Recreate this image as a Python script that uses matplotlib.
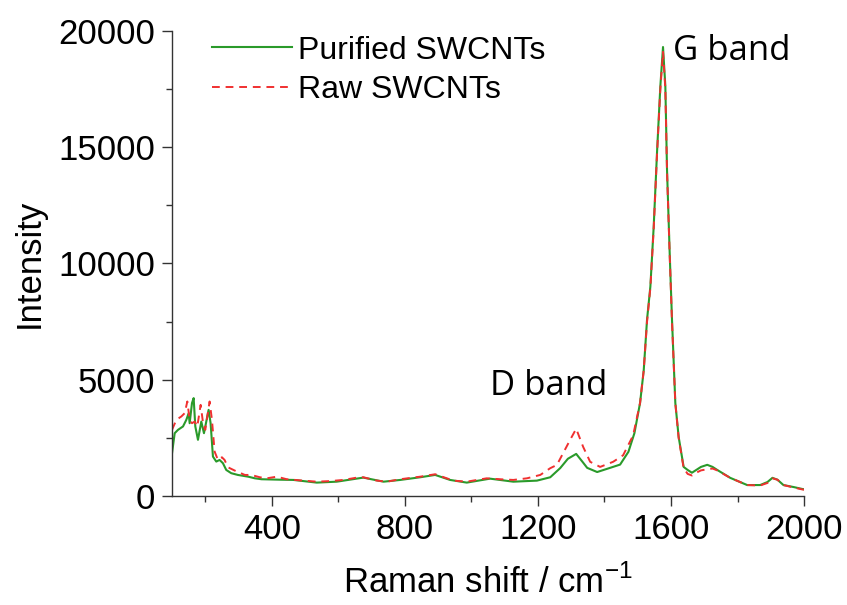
# =========================================================
# Raman spectra: purified vs raw SWCNTs
# =========================================================

import numpy as np
import matplotlib
matplotlib.use("Agg")
import matplotlib.pyplot as plt
from matplotlib.ticker import MultipleLocator

# =========================================================
# DATA
# =========================================================
shift_pur = [100, 108, 118, 133, 143, 150, 153, 160, 165, 170, 178, 188, 196,
             210, 216, 223, 233, 243, 253, 263, 278, 298, 329, 349, 369,
             425, 465, 535, 595, 675, 736, 786, 846, 891, 936, 986, 1056,
             1126, 1197, 1237, 1267, 1290, 1315, 1335, 1348, 1378, 1417,
             1447, 1472, 1490, 1507, 1518, 1528, 1538, 1548, 1558, 1568,
             1576, 1583, 1588, 1596, 1603, 1613, 1623, 1638, 1650, 1663,
             1676, 1690, 1709, 1725, 1739, 1778, 1829, 1868, 1890, 1905,
             1920, 1938, 1970, 1995, 2000]
int_pur = [1840, 2700, 2845, 2990, 3275, 3560, 3130, 3995, 4210, 2990, 2415,
           3200, 2700, 3705, 3130, 1695, 1480, 1550, 1410, 1120, 980, 905,
           830, 760, 720, 700, 690, 575, 615, 790, 615, 690, 805, 905, 690,
           575, 745, 615, 660, 805, 1200, 1600, 1810, 1450, 1210, 1030, 1210,
           1350, 1900, 2700, 4000, 5400, 7590, 9010, 11590, 14780, 17630,
           19310, 17630, 14050, 10470, 7590, 4000, 2540, 1250, 1120, 1000,
           1120, 1250, 1340, 1250, 1120, 780, 470, 470, 600, 780, 700, 470,
           380, 300, 290]

shift_raw = [100, 113, 128, 138, 146, 153, 160, 168, 176, 186, 194, 200, 213,
             220, 228, 238, 250, 258, 268, 289, 319, 338, 364, 385, 415, 445,
             495, 535, 575, 615, 656, 675, 716, 746, 786, 846, 891, 946, 986,
             1046, 1086, 1126, 1167, 1207, 1237, 1257, 1276, 1300, 1315, 1336,
             1357, 1387, 1426, 1456, 1486, 1507, 1518, 1528, 1538, 1548, 1558,
             1568, 1576, 1583, 1588, 1596, 1603, 1613, 1623, 1638, 1650, 1663,
             1676, 1690, 1709, 1725, 1739, 1778, 1829, 1868, 1890, 1905, 1920,
             1938, 1970, 1995, 2000]
int_raw = [2845, 3275, 3420, 3560, 4065, 3275, 3130, 3200, 2990, 3920, 3060,
           2845, 4065, 3275, 1910, 1550, 1665, 1550, 1235, 1090, 905, 905,
           805, 760, 830, 720, 660, 615, 640, 690, 790, 805, 660, 615, 720,
           830, 935, 660, 615, 760, 720, 690, 760, 905, 1195, 1335, 1850, 2500,
           2890, 2110, 1470, 1250, 1470, 1750, 2600, 4000, 5400, 7500, 8950,
           11500, 14700, 17500, 19100, 17500, 14000, 10400, 7500, 4000, 2500,
           1200, 950, 880, 1000, 1100, 1150, 1180, 1100, 780, 470, 450, 560,
           760, 700, 470, 360, 280, 270]

band_labels = ["D band", "G band"]
band_pos = [(1056, 4740), (1607, 19140)]

# =========================================================
# FIGURE
# =========================================================
plt.rcParams["font.family"] = ["Liberation Sans", "DejaVu Sans"]

fig = plt.figure(figsize=(8.47, 6.05), dpi=100)
ax = fig.add_axes([0.2031, 0.1802, 0.7462, 0.7686])

ax.plot(shift_pur, int_pur, color="#2a9a2a", lw=1.5, label="Purified SWCNTs")
ax.plot(shift_raw, int_raw, color="#f03030", lw=1.4, ls=(0, (4, 3)),
        label="Raw SWCNTs")

ax.set_xlim(100, 2000)
ax.set_ylim(0, 20000)

ax.xaxis.set_major_locator(MultipleLocator(400))
ax.xaxis.set_minor_locator(MultipleLocator(200))
ax.yaxis.set_major_locator(MultipleLocator(5000))
ax.yaxis.set_minor_locator(MultipleLocator(2500))
ax.set_xticks([400, 800, 1200, 1600, 2000])

ax.spines["top"].set_visible(False)
ax.spines["right"].set_visible(False)
for s in ["left", "bottom"]:
    ax.spines[s].set_color("#333333")
    ax.spines[s].set_linewidth(1.0)

ax.tick_params(which="major", direction="out", length=7, width=1.0,
               labelsize=25, color="#333333", pad=5)
ax.tick_params(which="minor", direction="out", length=4, width=1.0,
               color="#333333")

ax.set_xlabel("Raman shift / cm$^{\\mathregular{-1}}$", fontsize=25,
              labelpad=14)
ax.set_ylabel("Intensity", fontsize=25, labelpad=9)

# =========================================================
# LABELS + LEGEND
# =========================================================
for txt, (bx, by) in zip(band_labels, band_pos):
    ax.text(bx, by, txt, fontsize=25, family=["Open Sans", "DejaVu Sans"],
            va="center", ha="left")

ax.legend(loc="upper left", bbox_to_anchor=(0.063, 0.99), frameon=False,
          fontsize=23, handlelength=2.5, handletextpad=0.2, labelspacing=0.3,
          borderpad=0, borderaxespad=0)

plt.savefig("out.png", dpi=100)
plt.close()
